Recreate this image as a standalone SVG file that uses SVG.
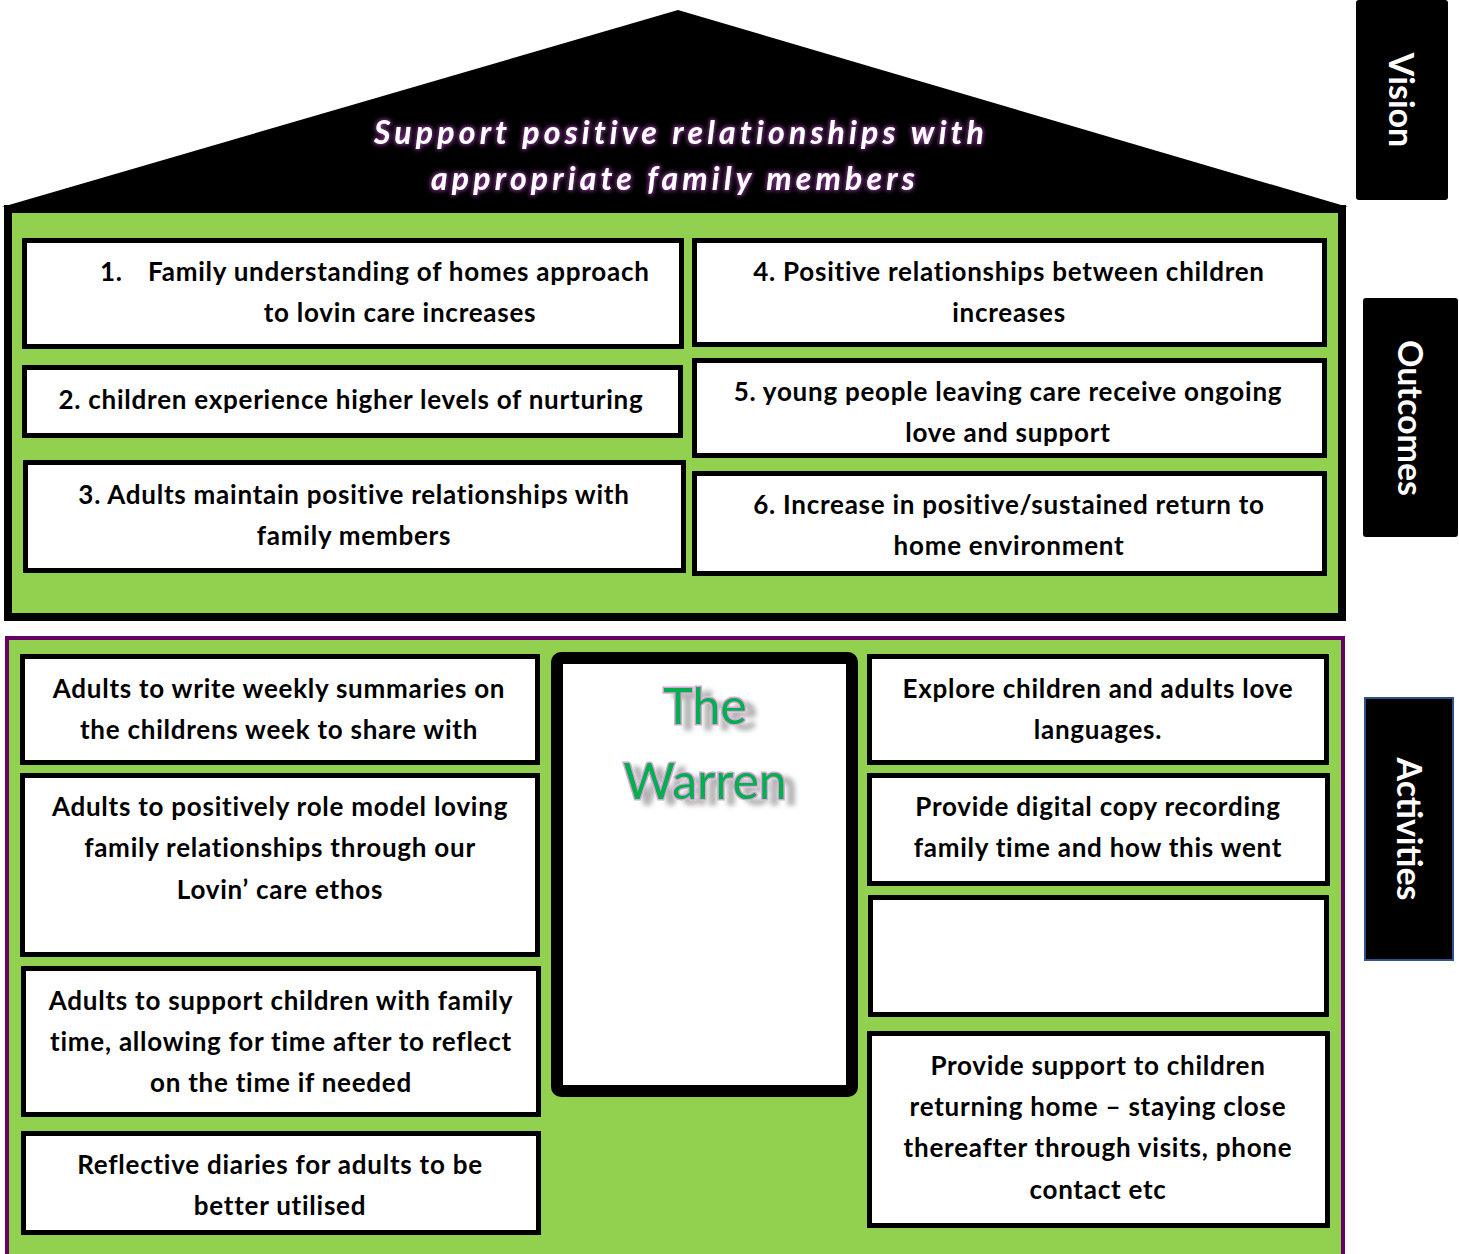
<svg xmlns="http://www.w3.org/2000/svg" width="1459" height="1254" viewBox="0 0 1459 1254">
<defs>
<style>
.box{fill:#ffffff;stroke:#000000;stroke-width:5}
.t{font-family:Lato,"Open Sans","Liberation Sans",sans-serif;font-weight:700;font-size:26px;letter-spacing:0.75px;fill:#000000;text-anchor:middle}
.side{fill:#000000}
.sl{font-family:Lato,"Open Sans","Liberation Sans",sans-serif;font-weight:700;font-size:34px;fill:#ffffff;text-anchor:middle}
.roof{font-family:Lato,"Open Sans","Liberation Sans",sans-serif;font-weight:700;font-style:italic;font-size:32px;fill:#ffffff;text-anchor:middle;letter-spacing:4.2px}
.warren{font-family:Lato,"Open Sans","Liberation Sans",sans-serif;font-weight:400;font-size:50px;fill:#00b050;stroke:#d9a3d6;stroke-width:3;paint-order:stroke;text-anchor:middle}
</style>
<filter id="glow" x="-10%" y="-50%" width="120%" height="200%">
<feMorphology in="SourceAlpha" operator="dilate" radius="1" result="d"/>
<feGaussianBlur in="d" stdDeviation="2.2" result="b"/>
<feFlood flood-color="#9b3aa8" flood-opacity="0.85"/>
<feComposite in2="b" operator="in" result="g"/>
<feMerge><feMergeNode in="g"/><feMergeNode in="SourceGraphic"/></feMerge>
</filter>
<filter id="shadow" x="-20%" y="-30%" width="150%" height="170%">
<feGaussianBlur in="SourceAlpha" stdDeviation="2.5" result="b"/>
<feOffset in="b" dx="10" dy="5" result="o"/>
<feFlood flood-color="#000000" flood-opacity="0.3"/>
<feComposite in2="o" operator="in" result="s"/>
<feMerge><feMergeNode in="s"/><feMergeNode in="SourceGraphic"/></feMerge>
</filter>
</defs>
<rect width="1459" height="1254" fill="#ffffff"/>

<g id="roof">
<polygon points="2,207 678,10 1348,207" fill="#000000"/>
<text class="roof" filter="url(#glow)"><tspan x="681" y="144">Support positive relationships with</tspan><tspan x="675" y="190">appropriate family members</tspan></text>
</g>

<g id="outcomes-body">
<rect x="8" y="209" width="1334" height="408" fill="#92d050" stroke="#000000" stroke-width="8"/>
</g>

<g id="outcome-1">
<rect class="box" x="24.5" y="240.5" width="657" height="106"/>
<text class="t"><tspan x="100" y="281" text-anchor="start">1.</tspan><tspan x="148" y="281" text-anchor="start">Family understanding of homes approach</tspan><tspan x="400" y="322">to lovin care increases</tspan></text>
</g>
<g id="outcome-4">
<rect class="box" x="694.5" y="240.5" width="630" height="104"/>
<text class="t"><tspan x="1009" y="281">4. Positive relationships between children</tspan><tspan x="1009" y="322">increases</tspan></text>
</g>
<g id="outcome-2">
<rect class="box" x="24.5" y="367.5" width="656" height="68"/>
<text class="t"><tspan x="351" y="409">2. children experience higher levels of nurturing</tspan></text>
</g>
<g id="outcome-5">
<rect class="box" x="694.5" y="360.5" width="630" height="95"/>
<text class="t"><tspan x="1008" y="401">5. young people leaving care receive ongoing</tspan><tspan x="1008" y="442">love and support</tspan></text>
</g>
<g id="outcome-3">
<rect class="box" x="25.5" y="462.5" width="658" height="108"/>
<text class="t"><tspan x="354" y="504">3. Adults maintain positive relationships with</tspan><tspan x="354" y="545">family members</tspan></text>
</g>
<g id="outcome-6">
<rect class="box" x="694.5" y="473.5" width="630" height="100"/>
<text class="t"><tspan x="1009" y="514">6. Increase in positive/sustained return to</tspan><tspan x="1009" y="555">home environment</tspan></text>
</g>

<g id="activities-body">
<rect x="7" y="638" width="1336" height="640" fill="#92d050" stroke="#660066" stroke-width="4"/>
</g>

<g id="activity-a1">
<rect class="box" x="22.5" y="656.5" width="515" height="106"/>
<text class="t"><tspan x="279" y="698">Adults to write weekly summaries on</tspan><tspan x="279" y="739">the childrens week to share with</tspan></text>
</g>
<g id="activity-a2">
<rect class="box" x="22.5" y="775.5" width="515" height="179"/>
<text class="t"><tspan x="280" y="816">Adults to positively role model loving</tspan><tspan x="280" y="857">family relationships through our</tspan><tspan x="280" y="899">Lovin’ care ethos</tspan></text>
</g>
<g id="activity-a3">
<rect class="box" x="23.5" y="968.5" width="515" height="146"/>
<text class="t"><tspan x="281" y="1010">Adults to support children with family</tspan><tspan x="281" y="1051">time, allowing for time after to reflect</tspan><tspan x="281" y="1092">on the time if needed</tspan></text>
</g>
<g id="activity-a4">
<rect class="box" x="23.5" y="1133.5" width="515" height="99"/>
<text class="t"><tspan x="280" y="1174">Reflective diaries for adults to be</tspan><tspan x="280" y="1215">better utilised</tspan></text>
</g>

<g id="the-warren">
<rect x="557" y="658" width="295" height="433" rx="4" fill="#ffffff" stroke="#000000" stroke-width="12"/>
<text class="warren" filter="url(#shadow)"><tspan x="705" y="724">The</tspan><tspan x="705" y="799">Warren</tspan></text>
</g>

<g id="activity-r1">
<rect class="box" x="869.5" y="656.5" width="457" height="106"/>
<text class="t"><tspan x="1098" y="698">Explore children and adults love</tspan><tspan x="1098" y="739">languages.</tspan></text>
</g>
<g id="activity-r2">
<rect class="box" x="869.5" y="775.5" width="458" height="108"/>
<text class="t"><tspan x="1098" y="816">Provide digital copy recording</tspan><tspan x="1098" y="857">family time and how this went</tspan></text>
</g>
<g id="activity-r3">
<rect class="box" x="870.5" y="897.5" width="456" height="117"/>
</g>
<g id="activity-r4">
<rect class="box" x="869.5" y="1033.5" width="458" height="192"/>
<text class="t"><tspan x="1098" y="1075">Provide support to children</tspan><tspan x="1098" y="1116">returning home – staying close</tspan><tspan x="1098" y="1157">thereafter through visits, phone</tspan><tspan x="1098" y="1199">contact etc</tspan></text>
</g>

<g id="label-vision">
<rect class="side" x="1356" y="0" width="92" height="200" rx="3"/>
<text class="sl" transform="translate(1401,100) rotate(90)" x="0" y="12">Vision</text>
</g>
<g id="label-outcomes">
<rect class="side" x="1363" y="298" width="95" height="239" rx="3"/>
<text class="sl" transform="translate(1410,418) rotate(90)" x="0" y="12">Outcomes</text>
</g>
<g id="label-activities">
<rect x="1365" y="698" width="88" height="262" fill="#000000" stroke="#2f528f" stroke-width="2"/>
<text class="sl" transform="translate(1409,829) rotate(90)" x="0" y="12">Activities</text>
</g>

<g id="connectors"/>
</svg>
